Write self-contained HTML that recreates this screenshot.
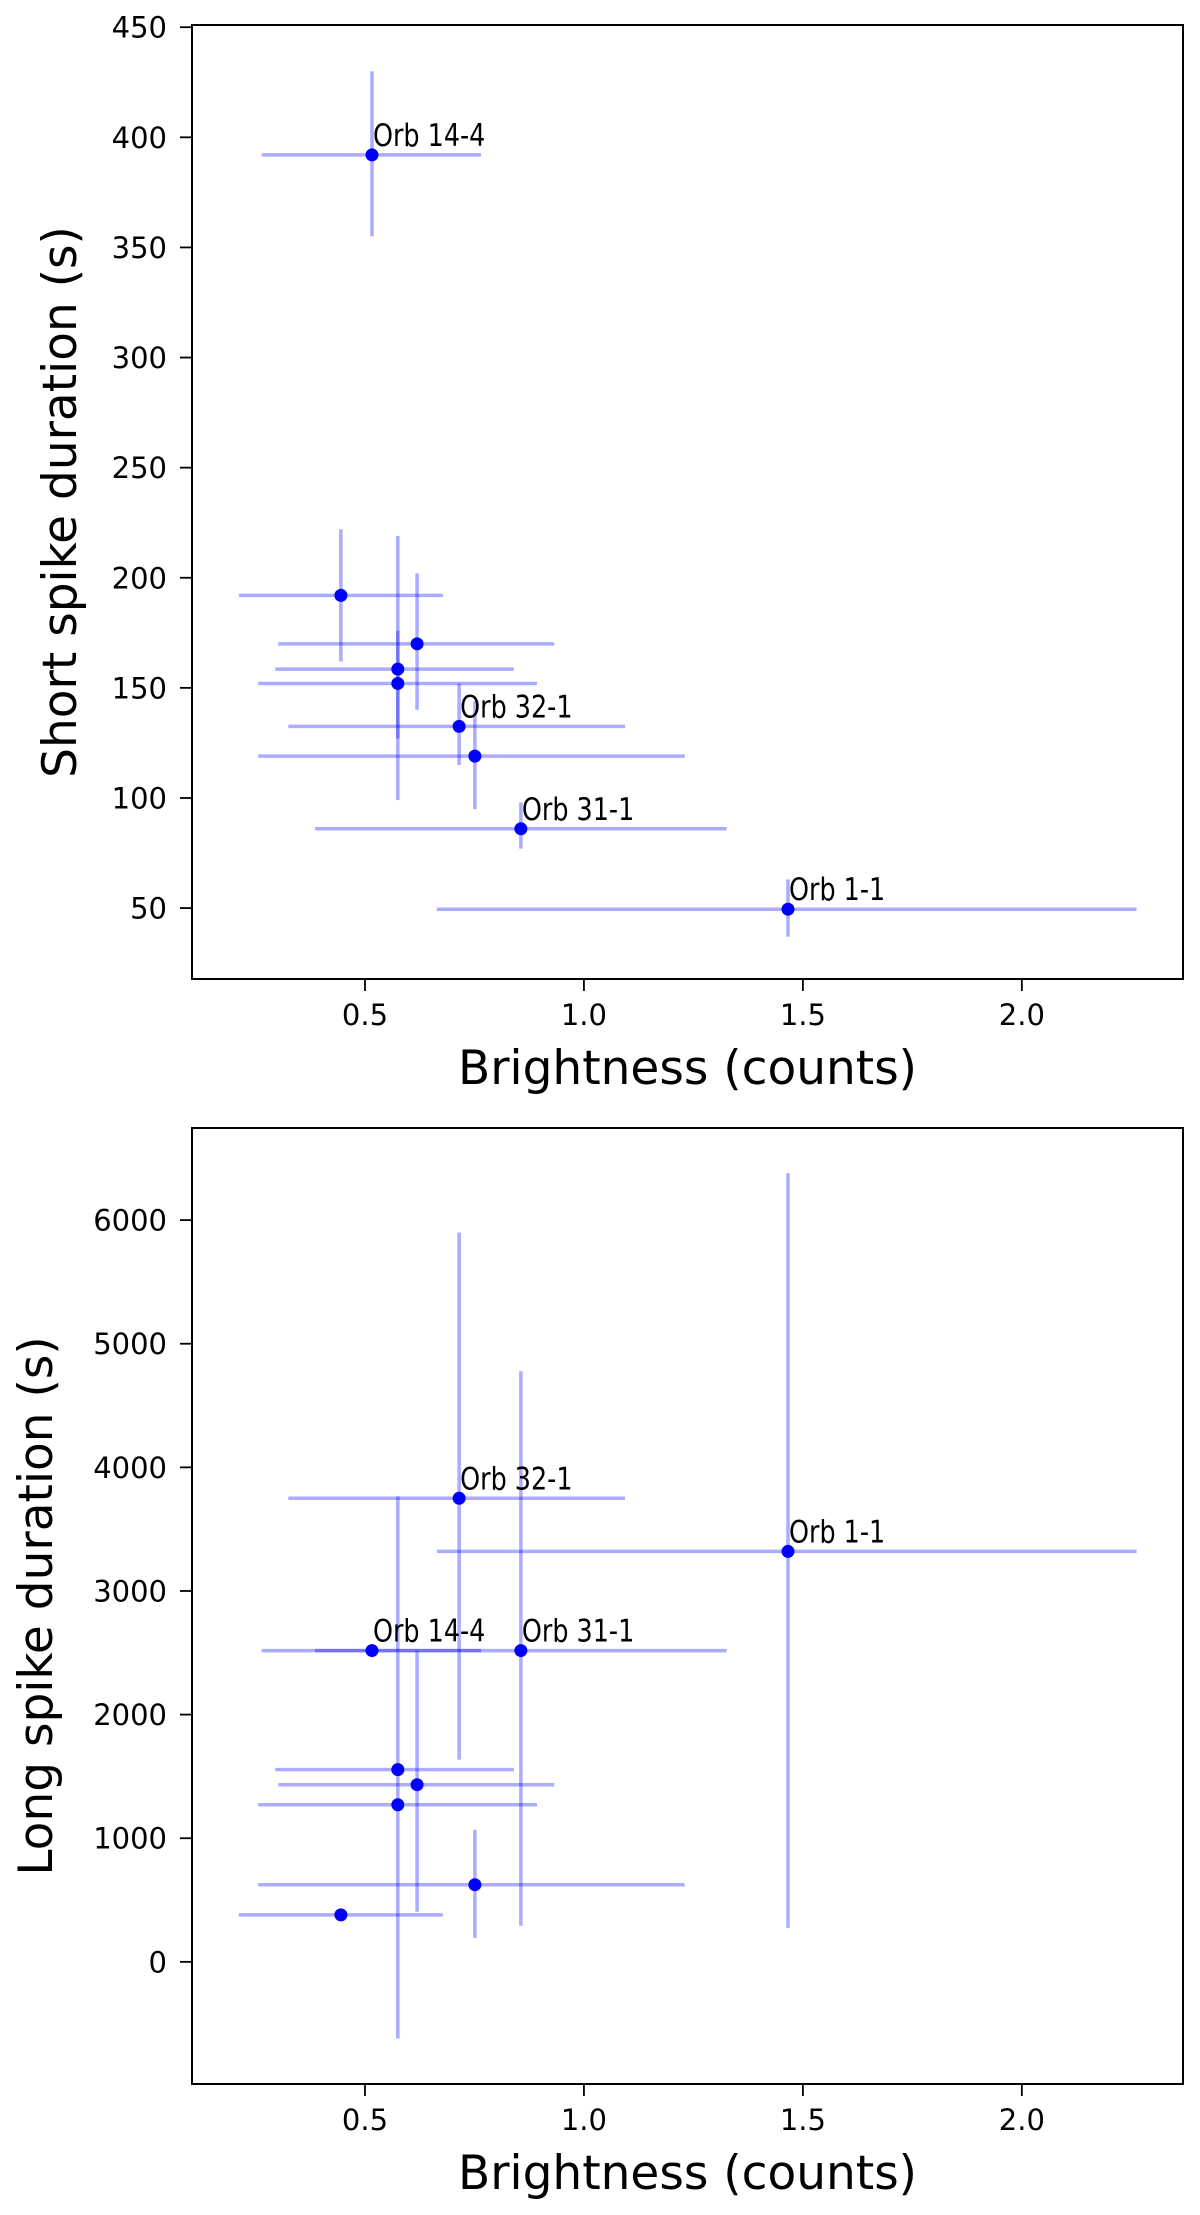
<!DOCTYPE html>
<html><head><meta charset="utf-8"><style>
html,body{margin:0;padding:0;background:#fff;}
svg{display:block;font-family:"DejaVu Sans","Liberation Sans",sans-serif;}
</style></head><body>
<svg id="fig" width="1200" height="2215" viewBox="0 0 1200 2215" xmlns="http://www.w3.org/2000/svg"></svg>
<script>
const labels = ["Orb 14-4","","","","","Orb 32-1","","Orb 31-1","Orb 1-1"];
const brightness = [0.516,0.445,0.619,0.575,0.575,0.715,0.751,0.856,1.466];
const brightLo = [0.264,0.212,0.302,0.295,0.256,0.325,0.256,0.386,0.664];
const brightHi = [0.765,0.678,0.932,0.840,0.893,1.094,1.230,1.326,2.262];
const shortDur = [392,192,170,158.5,152,132.5,119,86,49.5];
const shortLo = [355,162,140,99,127,115,95,77,37];
const shortHi = [430,222,202,219,176,152,144,98,63];
const longDur = [2518,380,1433,1555,1271,3750,624,2518,3320];
const longLo = [null,null,405,-620,null,1636,194,291,275];
const longHi = [null,null,2518,3765,null,5900,1069,4777,6380];
const xTicks = [0.5,1.0,1.5,2.0];
const xTickLabels = ["0.5","1.0","1.5","2.0"];
const shortTicks = [50,100,150,200,250,300,350,400,450];
const longTicks = [0,1000,2000,3000,4000,5000,6000];

const NS="http://www.w3.org/2000/svg";
const svg=document.getElementById('fig');
function mk(tag,attrs,parent){const e=document.createElementNS(NS,tag);for(const k in attrs)e.setAttribute(k,attrs[k]);(parent||svg).appendChild(e);return e;}

function panel(cfg){
  const g=mk('g',{});
  
  
  const L=192,R=1183,T=cfg.top,B=cfg.bottom;
  const sx=v=>L+(v-0.105)/(2.368-0.105)*(R-L);
  const sy=v=>B-(v-cfg.ymin)/(cfg.ymax-cfg.ymin)*(B-T);
  for(let i=0;i<brightness.length;i++){
    const h=mk('line',{x1:sx(brightLo[i]),x2:sx(brightHi[i]),y1:sy(cfg.vals[i]),y2:sy(cfg.vals[i]),stroke:'rgba(0,0,255,0.33)','stroke-width':3.5},g);
    
    
    if(cfg.lo[i]!==null){
      const v=mk('line',{x1:sx(brightness[i]),x2:sx(brightness[i]),y1:sy(cfg.lo[i]),y2:sy(cfg.hi[i]),stroke:'rgba(0,0,255,0.33)','stroke-width':3.5},g);
      
      
    }
  }
  for(let i=0;i<brightness.length;i++){
    const c=mk('circle',{cx:sx(brightness[i]),cy:sy(cfg.vals[i]),r:6.5,fill:'#0000ff'},g);
    
    
    if(labels[i]){
      const t=mk('text',{x:sx(brightness[i])+1,y:sy(cfg.vals[i])-9,'font-size':31,fill:'#000'},g);
      t.textContent=labels[i];
      
      
      const w=t.getComputedTextLength();
      if(w>0){t.setAttribute('textLength',(w*0.82).toFixed(1));t.setAttribute('lengthAdjust','spacingAndGlyphs');}
    }
  }
  const box=mk('rect',{x:L,y:T,width:R-L,height:B-T,fill:'none',stroke:'#000','stroke-width':2},g);
  
  
  xTicks.forEach((v,i)=>{
    const x=sx(v);
    const tk=mk('line',{x1:x,x2:x,y1:B,y2:B+12,stroke:'#000','stroke-width':1.8},g);
    
    
    const t=mk('text',{x:x,y:B+46,'font-size':29,'text-anchor':'middle',fill:'#000'},g);
    t.textContent=xTickLabels[i];
    
    
  });
  cfg.ticks.forEach(v=>{
    const y=sy(v);
    const tk=mk('line',{x1:L-12,x2:L,y1:y,y2:y,stroke:'#000','stroke-width':1.8},g);
    
    
    const t=mk('text',{x:L-25,y:y+10.5,'font-size':29,'text-anchor':'end',fill:'#000'},g);
    t.textContent=String(v);
    
    
  });
  const xl=mk('text',{x:(L+R)/2,y:B+105,'font-size':47,'text-anchor':'middle',fill:'#000'},g);
  xl.textContent='Brightness (counts)';
  
  
  const cy=(T+B)/2;
  const yl=mk('text',{x:cfg.ylx,y:cy,'font-size':47,'text-anchor':'middle',transform:`rotate(-90 ${cfg.ylx} ${cy})`,fill:'#000'},g);
  yl.textContent=cfg.ytitle;
  
  
}
panel({name:'short-spike-panel',top:25,bottom:979,ymin:17.8,ymax:451,vals:shortDur,lo:shortLo,hi:shortHi,ticks:shortTicks,ytitle:'Short spike duration (s)',ylx:76});
panel({name:'long-spike-panel',top:1128,bottom:2084,ymin:-988,ymax:6745,vals:longDur,lo:longLo,hi:longHi,ticks:longTicks,ytitle:'Long spike duration (s)',ylx:52});
</script>
</body></html>
